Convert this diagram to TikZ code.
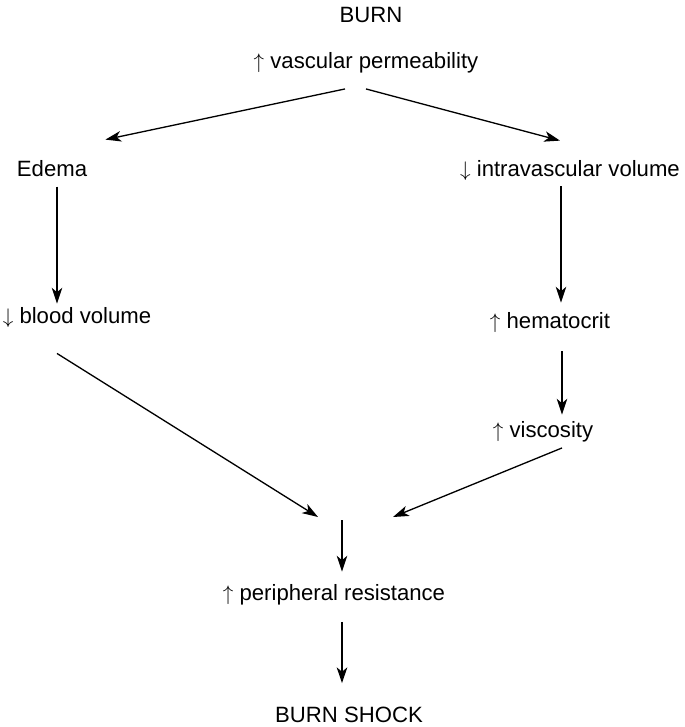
\documentclass[tikz,border=0pt]{standalone}
\usepackage{fontspec}
\setmainfont{Liberation Sans}
\usepackage{tikz}
\usetikzlibrary{arrows.meta}

\begin{document}
\begin{tikzpicture}[
x=0.02cm,y=-0.02cm,
lbl/.style={%
inner sep=0pt,
anchor=base,
font=\fontsize{12.6}{15}\selectfont
},
arr/.style={%
line width=0.75pt,
-{Stealth[length=9pt,width=6pt,inset=2.5pt]}
}
]
\useasboundingbox(0,0)rectangle(685,727);
%% Cause
\node[lbl]at(371,22)(burn){BURN};
\node[lbl]at(366,68)(perm){$\uparrow$ vascular permeability};
%% Left branch
\node[lbl]at(52,176)(edema){Edema};
\node[lbl]at(77,323)(blood){$\downarrow$ blood volume};
\draw[arr]([shift={(-21,16)}]perm.south)--([shift={(18,-20)}]edema.north east);
\draw[arr]([shift={(5,10)}]edema.south)--([shift={(-20,-3)}]blood.north);
%% Right branch
\node[lbl]at(570,176)(intra){$\downarrow$ intravascular volume};
\node[lbl]at(550,328)(hema){$\uparrow$ hematocrit};
\node[lbl]at(543,437)(visc){$\uparrow$ viscosity};
\draw[arr]([shift={(0,16)}]perm.south)--([shift={(-10,-19)}]intra.north);
\draw[arr]([shift={(-9,6)}]intra.south)--([shift={(11,-9)}]hema.north);
\draw[arr]([shift={(12,19)}]hema.south)--([shift={(19,-6)}]visc.north);
%% Merge
\coordinate(mergeL)at(318,517);
\coordinate(mergeR)at(393,517);
\coordinate(merge)at(342,520);
\draw[arr]([shift={(-20,26)}]blood.south)--(mergeL);
\draw[arr]([shift={(19,6)}]visc.south)--(mergeR);
%% Outcome
\node[lbl]at(334,600)(periph){$\uparrow$ peripheral resistance};
\node[lbl]at(349,722)(shock){BURN SHOCK};
\draw[arr](merge)--([shift={(8,-12)}]periph.north);
\draw[arr]([shift={(8,17)}]periph.south)--([shift={(-7,-23)}]shock.north);
\end{tikzpicture}
\end{document}
